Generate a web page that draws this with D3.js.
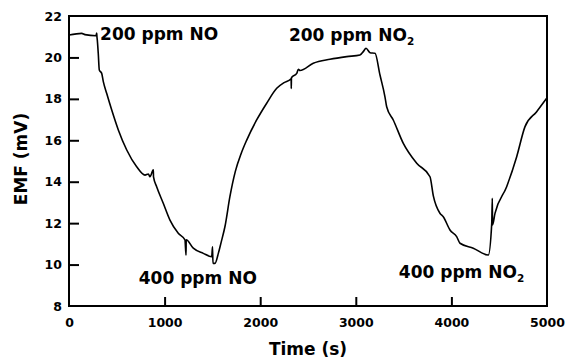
<!DOCTYPE html>
<html>
<head>
<meta charset="utf-8">
<script src="https://cdn.jsdelivr.net/npm/d3@7"></script>
<style>
  body { margin: 0; background: #fff; }
  text { font-family: "DejaVu Sans", Verdana, sans-serif; font-weight: bold; fill: #000; }
</style>
</head>
<body>
<div id="chart"></div>
<script>
// time (s) and EMF (mV), including the small spikes
const timeS = [0, 133, 167, 282, 290, 292, 296, 306, 317, 342, 359, 394, 447, 516, 604, 708, 795, 830, 847, 882, 884,
    917, 986, 1056, 1143, 1213, 1224, 1226, 1300, 1405, 1493, 1501, 1506, 1527, 1562, 1590, 1632, 1684, 1740, 1800,
    1859, 1963, 2068, 2173, 2250, 2320, 2324, 2325, 2327, 2382, 2399, 2416, 2555, 2730, 2905, 3044, 3078, 3107, 3149,
    3201, 3253, 3305, 3323, 3392, 3497, 3637, 3776, 3811, 3880, 3915, 3985, 4055, 4090, 4229, 4386, 4422, 4428, 4430,
    4456, 4578, 4683, 4770, 4892, 4997];
const emf = [21.08, 21.16, 21.10, 21.05, 21.18, 21.02, 20.84, 20.20, 19.39, 19.23, 18.83, 18.27, 17.46, 16.50, 15.53,
    14.72, 14.32, 14.37, 14.24, 14.57, 14.23,
    13.76, 12.96, 12.15, 11.51, 11.19, 10.46, 11.20, 10.79, 10.54, 10.38, 10.86, 10.06, 10.06, 10.54, 11.05, 11.85,
    13.30, 14.50, 15.35,
    16.01, 16.98, 17.79, 18.51, 18.78, 18.96, 18.98, 18.50, 19.02, 19.23, 19.43, 19.37, 19.72, 19.91, 20.04, 20.12,
    20.28, 20.44, 20.23,
    20.20, 19.15, 18.10, 17.62, 16.98, 15.85, 14.89, 14.24, 13.32, 12.48, 12.31, 11.67, 11.35, 11.03, 10.79, 10.46,
    11.99, 13.20, 11.91,
    12.47, 13.76, 15.21, 16.66, 17.38, 18.03];

const xTicks = [0, 1000, 2000, 3000, 4000, 5000];
const yTicks = [8, 10, 12, 14, 16, 18, 20, 22];

const notes = [
    { text: "200 ppm NO", sub: "", t: 325, v: 20.85 },
    { text: "200 ppm NO", sub: "2", t: 2300, v: 20.8 },
    { text: "400 ppm NO", sub: "", t: 730, v: 9.05 },
    { text: "400 ppm NO", sub: "2", t: 3450, v: 9.35 }
];

const width = 567, height = 359;
const margin = { top: 16, right: 20, bottom: 53, left: 69 };

const svg = d3.select("#chart").append("svg")
    .attr("width", width)
    .attr("height", height);

const x = d3.scaleLinear().domain([0, 5000]).range([margin.left, width - margin.right]);
const y = d3.scaleLinear().domain([8, 22]).range([height - margin.bottom, margin.top]);

// frame
svg.append("rect")
    .attr("x", x(0)).attr("y", y(22))
    .attr("width", x(5000) - x(0)).attr("height", y(8) - y(22))
    .attr("fill", "none").attr("stroke", "#000").attr("stroke-width", 2);

// axes, ticks pointing inward
const xAxis = svg.append("g")
    .attr("transform", "translate(0," + y(8) + ")")
    .call(d3.axisBottom(x).tickValues(xTicks).tickSize(-9).tickPadding(12).tickFormat(d3.format("d")));
const yAxis = svg.append("g")
    .attr("transform", "translate(" + x(0) + ",0)")
    .call(d3.axisLeft(y).tickValues(yTicks).tickSize(-10).tickPadding(7).tickFormat(d3.format("d")));

[xAxis, yAxis].forEach(g => {
    g.select(".domain").remove();
    g.selectAll(".tick line").attr("stroke", "#000").attr("stroke-width", 2);
    g.selectAll(".tick text").style("font-size", "12.5px");
});
xAxis.selectAll(".tick").filter(d => d === 0 || d === 5000).select("line").remove();
yAxis.selectAll(".tick").filter(d => d === 8 || d === 22).select("line").remove();

// data line
const pts = timeS.map((t, i) => [t, emf[i]]);
svg.append("path")
    .datum(pts)
    .attr("fill", "none")
    .attr("stroke", "#000")
    .attr("stroke-width", 1.6)
    .attr("stroke-linejoin", "round")
    .attr("d", d3.line().curve(d3.curveMonotoneX).x(d => x(d[0])).y(d => y(d[1])));

// annotations
notes.forEach(n => {
    const t = svg.append("text")
        .attr("x", x(n.t)).attr("y", y(n.v))
        .style("font-size", "17px")
        .text(n.text);
    if (n.sub) {
        t.append("tspan").attr("dy", 4).style("font-size", "10.5px").text(n.sub);
    }
});

// axis titles
svg.append("text")
    .attr("x", (x(0) + x(5000)) / 2).attr("y", 355)
    .attr("text-anchor", "middle")
    .style("font-size", "17px")
    .text("Time (s)");
svg.append("text")
    .attr("transform", "translate(27," + (y(15) - 2) + ") rotate(-90)")
    .attr("text-anchor", "middle")
    .style("font-size", "17px")
    .text("EMF (mV)");
</script>
</body>
</html>
